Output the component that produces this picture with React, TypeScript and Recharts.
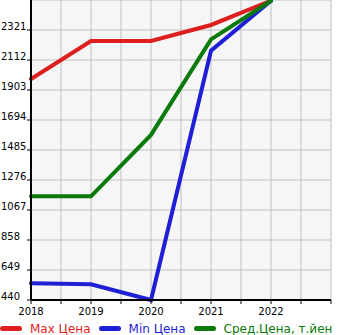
import { CartesianGrid, Line, LineChart, XAxis, YAxis } from 'recharts';

const years = [2018, 2019, 2020, 2021, 2022];
const maxPrice = [1980, 2244, 2244, 2356, 2525];
const minPrice = [556, 549, 440, 2177, 2525];
const avgPrice = [1162, 1162, 1590, 2256, 2525];

const xTicks = [2018, 2018.5, 2019, 2019.5, 2020, 2020.5, 2021, 2021.5, 2022, 2022.5, 2023];
const yTicks = [440, 649, 858, 1067, 1276, 1485, 1694, 1903, 2112, 2321, 2530];
const yLabels = ['440', '649', '858', '1067', '1276', '1485', '1694', '1903', '2112', '2321', ''];

const RED = '#dd1f1f';
const BLUE = '#1f1fd6';
const GREEN = '#0a7a0a';
const FONT = '"DejaVu Sans", sans-serif';

const legendItems = [
  { label: 'Max Цена', color: RED },
  { label: 'Min Цена', color: BLUE },
  { label: 'Сред.Цена, т.йен', color: GREEN },
];

const data = years.map((year, i) => ({
  year,
  max: maxPrice[i],
  min: minPrice[i],
  avg: avgPrice[i],
}));

// axis sits at y=300; tickSize/tickMargin are 0 so y is the axis line
function XTick({ x, y, payload }: any) {
  const v = payload.value;
  const labeled = Number.isInteger(v) && v < 2023;
  return (
    <g>
      <line x1={x} x2={x} y1={y} y2={y + 4} stroke="#000" strokeWidth={1} />
      {labeled && (
        <text x={x} y={y + 14.5} textAnchor="middle" fontSize={10} fontFamily={FONT} fill="#000">
          {v}
        </text>
      )}
    </g>
  );
}

function YTick({ y, index }: any) {
  const label = yLabels[index] ?? '';
  if (!label) return <g />;
  return (
    <g>
      <line x1={27} x2={31} y1={y} y2={y} stroke="#000" strokeWidth={1} />
      <text x={1} y={y} textAnchor="start" fontSize={10} fontFamily={FONT} fill="#000">
        {label}
      </text>
    </g>
  );
}

export default function App() {
  return (
    <div style={{ position: 'absolute', left: 0, top: 0, width: 345, height: 335, background: '#fff' }}>
      <LineChart width={345} height={318} data={data} margin={{ top: 0, right: 14, left: 0, bottom: 0 }}>
        <CartesianGrid stroke="#c0c0c0" fill="#f6f6f6" />
        <XAxis
          dataKey="year"
          type="number"
          domain={[2018, 2023]}
          ticks={xTicks}
          interval={0}
          height={18}
          tickSize={0}
          tickMargin={0}
          tick={<XTick />}
          tickLine={false}
          axisLine={{ stroke: '#000', strokeWidth: 2 }}
        />
        <YAxis
          type="number"
          domain={[440, 2530]}
          ticks={yTicks}
          interval={0}
          width={31}
          tick={<YTick />}
          tickLine={false}
          axisLine={{ stroke: '#000', strokeWidth: 2 }}
        />
        <Line dataKey="max" stroke={RED} strokeWidth={4} dot={false} strokeLinecap="round" isAnimationActive={false} />
        <Line dataKey="min" stroke={BLUE} strokeWidth={4} dot={false} strokeLinecap="round" isAnimationActive={false} />
        <Line dataKey="avg" stroke={GREEN} strokeWidth={4} dot={false} strokeLinecap="round" isAnimationActive={false} />
      </LineChart>
      <div
        style={{
          display: 'flex',
          alignItems: 'center',
          height: 17,
          marginTop: 2,
          fontFamily: FONT,
          fontSize: 12,
          whiteSpace: 'nowrap',
        }}
      >
        {legendItems.map((item) => (
          <div key={item.label} style={{ display: 'flex', alignItems: 'center', marginRight: 8 }}>
            <span
              style={{
                display: 'inline-block',
                width: 22,
                height: 5,
                borderRadius: 3,
                background: item.color,
                marginRight: 8,
              }}
            />
            <span style={{ color: item.color }}>{item.label}</span>
          </div>
        ))}
      </div>
    </div>
  );
}
